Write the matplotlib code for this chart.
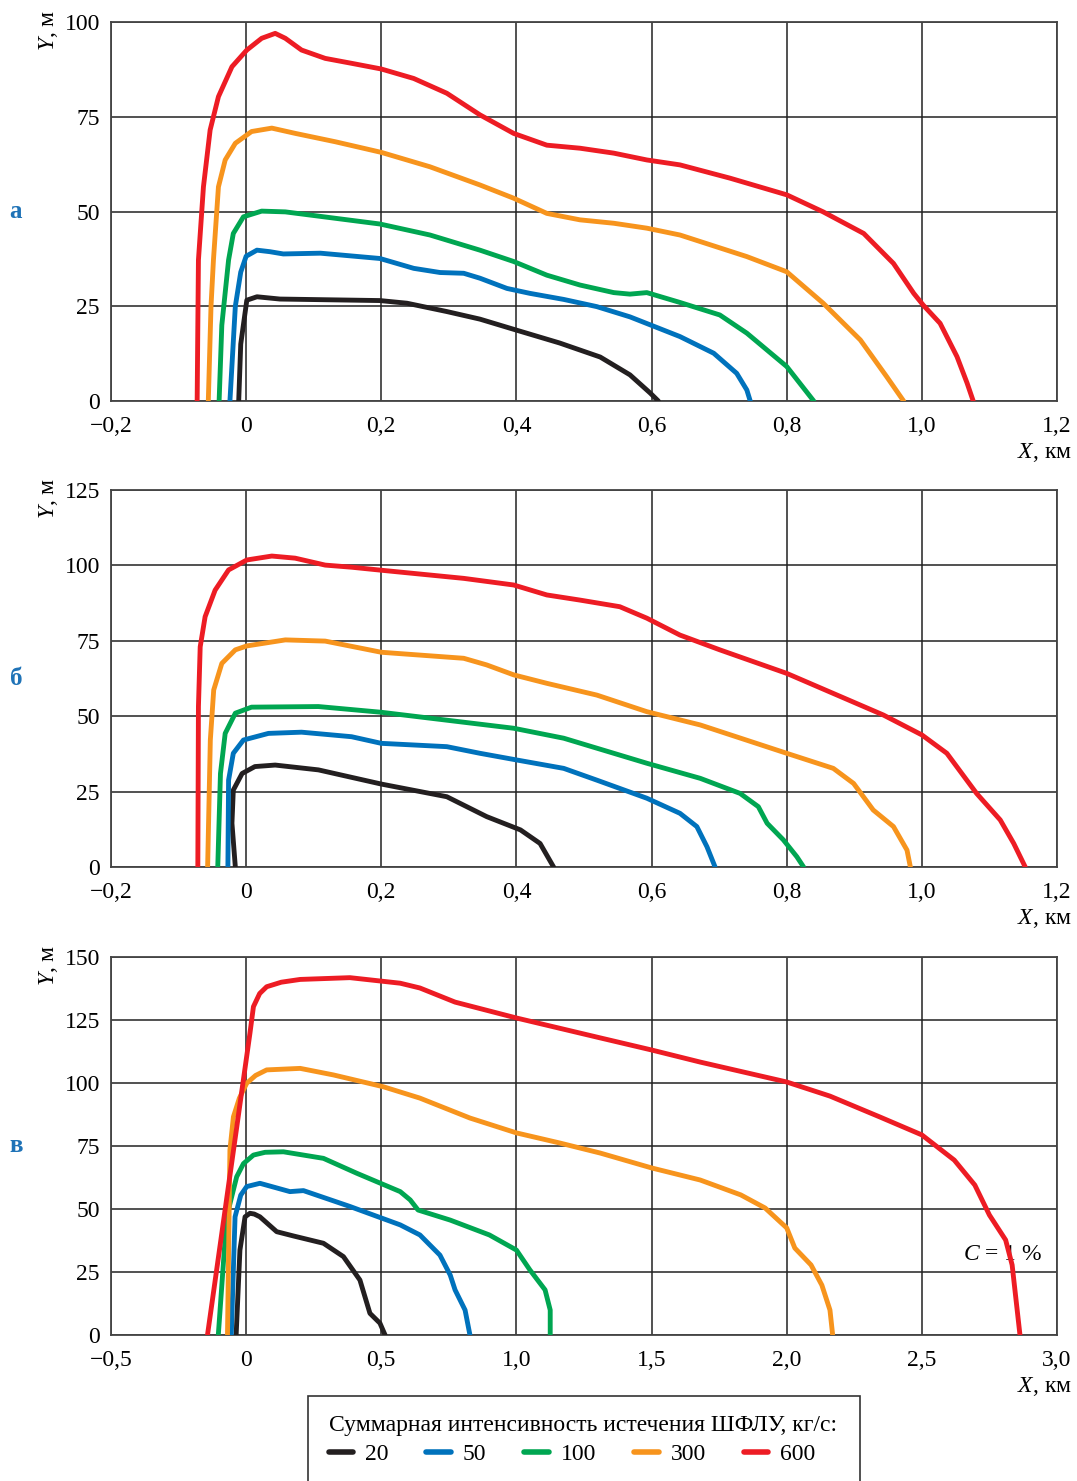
import matplotlib.pyplot as plt
from matplotlib.lines import Line2D
from matplotlib.patches import Rectangle

plt.rcParams["font.family"] = ["Liberation Serif", "DejaVu Serif"]
plt.rcParams["mathtext.fontset"] = "custom"
plt.rcParams["mathtext.rm"] = "Liberation Serif"
plt.rcParams["mathtext.it"] = "Liberation Serif:italic"

SERIES = ["20", "50", "100", "300", "600"]
COLORS = ["#231f20", "#0072bc", "#00a651", "#f7941d", "#ed1c24"]

# --- panel а ---
a_x_20 = [-0.011, -0.008, 0.001, 0.016, 0.05, 0.198, 0.238, 0.297, 0.346, 0.4, 0.464, 0.524, 0.568, 0.598, 0.61]
a_y_20 = [0, 15, 26.6, 27.5, 26.9, 26.5, 25.8, 23.6, 21.6, 18.7, 15.3, 11.6, 6.9, 2.1, 0]
a_x_50 = [-0.024, -0.016, -0.008, 0.0, 0.016, 0.035, 0.055, 0.11, 0.198, 0.248, 0.287, 0.322, 0.346, 0.386, 0.42, 0.47, 0.519, 0.568, 0.642, 0.692, 0.726, 0.741, 0.746]
a_y_50 = [0, 25, 34, 38.2, 39.8, 39.4, 38.8, 39, 37.6, 35, 33.9, 33.7, 32.4, 29.7, 28.4, 26.8, 24.9, 22.2, 17, 12.6, 7.3, 2.9, 0]
a_x_100 = [-0.04, -0.036, -0.026, -0.019, -0.004, 0.023, 0.058, 0.198, 0.272, 0.346, 0.396, 0.445, 0.494, 0.544, 0.568, 0.593, 0.642, 0.701, 0.741, 0.8, 0.84]
a_y_100 = [0, 20, 37.2, 44.2, 48.6, 50.1, 49.9, 46.7, 43.8, 39.8, 36.8, 33.2, 30.6, 28.6, 28.2, 28.6, 26, 22.7, 17.9, 9.1, 0]
a_x_300 = [-0.056, -0.052, -0.0484, -0.041, -0.031, -0.016, 0.008, 0.038, 0.073, 0.132, 0.2, 0.272, 0.346, 0.396, 0.445, 0.494, 0.544, 0.593, 0.642, 0.741, 0.8, 0.854, 0.909, 0.948, 0.973]
a_y_300 = [0, 25, 37.2, 56.5, 63.6, 68, 71.1, 72, 70.6, 68.4, 65.6, 61.8, 57, 53.5, 49.5, 47.8, 46.9, 45.6, 43.8, 38.1, 34.1, 25.8, 16.1, 6.4, 0]
a_x_600 = [-0.0725, -0.0715, -0.0706, -0.0632, -0.0533, -0.041, -0.021, 0.001, 0.023, 0.043, 0.058, 0.082, 0.117, 0.156, 0.2, 0.248, 0.297, 0.346, 0.396, 0.445, 0.494, 0.544, 0.593, 0.642, 0.716, 0.8, 0.854, 0.914, 0.958, 0.988, 1.002, 1.027, 1.052, 1.067, 1.076]
a_y_600 = [0, 20, 37.2, 56.5, 71.5, 80.3, 88.2, 92.6, 95.7, 97, 95.7, 92.6, 90.4, 89.1, 87.6, 85.1, 81.2, 75.5, 70.6, 67.5, 66.7, 65.4, 63.6, 62.3, 58.8, 54.4, 49.9, 44.2, 36.3, 28.4, 25.3, 20.5, 11.7, 4.7, 0]

# --- panel б ---
b_x_20 = [-0.016, -0.021, -0.019, -0.006, 0.013, 0.043, 0.107, 0.2, 0.297, 0.356, 0.406, 0.435, 0.455]
b_y_20 = [0, 14.5, 25.5, 31, 33.3, 33.8, 32.2, 27.5, 23.3, 16.7, 12.3, 7.8, 0]
b_x_50 = [-0.027, -0.026, -0.019, -0.004, 0.033, 0.082, 0.156, 0.2, 0.297, 0.346, 0.4, 0.47, 0.519, 0.593, 0.642, 0.667, 0.682, 0.694]
b_y_50 = [0, 28.8, 37.7, 42.1, 44.3, 44.7, 43.2, 41, 39.9, 37.7, 35.5, 32.7, 28.8, 22.8, 17.8, 13.4, 6.7, 0]
b_x_100 = [-0.042, -0.038, -0.031, -0.016, 0.008, 0.107, 0.2, 0.396, 0.47, 0.593, 0.672, 0.731, 0.758, 0.771, 0.795, 0.815, 0.825]
b_y_100 = [0, 31, 44.3, 51, 53, 53.2, 51.3, 46, 42.7, 34.4, 29.4, 24.4, 20, 14.5, 9, 3.4, 0]
b_x_300 = [-0.057, -0.053, -0.048, -0.036, -0.016, 0.001, 0.058, 0.117, 0.2, 0.322, 0.356, 0.396, 0.445, 0.519, 0.593, 0.672, 0.8, 0.869, 0.899, 0.928, 0.958, 0.978, 0.983]
b_y_300 = [0, 42.1, 58.7, 67.5, 72, 73.3, 75.3, 74.9, 71.2, 69.2, 67, 63.7, 60.9, 57, 51.5, 47.1, 37.7, 32.7, 27.7, 18.9, 13.4, 5.6, 0]
b_x_600 = [-0.0715, -0.0706, -0.068, -0.0607, -0.0459, -0.026, 0.001, 0.038, 0.0725, 0.117, 0.156, 0.2, 0.322, 0.396, 0.445, 0.494, 0.553, 0.593, 0.642, 0.701, 0.8, 0.943, 1.0, 1.037, 1.081, 1.116, 1.136, 1.153]
b_y_600 = [0, 53.2, 73, 83, 91.8, 98.5, 101.8, 103.1, 102.4, 100.1, 99.4, 98.4, 95.7, 93.5, 90.2, 88.5, 86.3, 82.5, 76.9, 72, 64.2, 50.4, 43.8, 37.7, 24.4, 15.6, 7.8, 0]

# --- panel в ---
c_x_20 = [-0.037, -0.023, -0.004, 0.014, 0.03, 0.051, 0.113, 0.175, 0.286, 0.36, 0.421, 0.458, 0.495, 0.514]
c_y_20 = [0, 33.7, 46.9, 48.3, 48, 46.9, 41, 39.3, 36.4, 31.1, 21.8, 8.6, 4.7, 0]
c_x_50 = [-0.055, -0.041, -0.02, 0.002, 0.051, 0.162, 0.212, 0.384, 0.57, 0.643, 0.717, 0.755, 0.773, 0.81, 0.828]
c_y_50 = [0, 46.9, 55.5, 58.9, 60.2, 56.9, 57.3, 51, 43.7, 39.7, 31.7, 23.8, 17.9, 9.9, 0]
c_x_100 = [-0.103, -0.072, -0.035, -0.01, 0.027, 0.07, 0.138, 0.286, 0.409, 0.57, 0.607, 0.636, 0.755, 0.9, 1.0, 1.05, 1.106, 1.125, 1.125]
c_y_100 = [0, 46.9, 62.8, 68, 71.4, 72.5, 72.7, 70.1, 64.2, 56.9, 53.6, 49.6, 45.6, 39.7, 33.7, 25.8, 17.9, 9.9, 0]
c_x_300 = [-0.069, -0.064, -0.06, -0.047, -0.025, 0.002, 0.035, 0.076, 0.2, 0.323, 0.508, 0.643, 0.828, 1.0, 1.16, 1.31, 1.5, 1.68, 1.83, 1.92, 2.0, 2.03, 2.09, 2.13, 2.16, 2.17]
c_y_300 = [0, 40, 73.4, 86.6, 94, 99.9, 103, 105.2, 105.8, 103.2, 98.5, 94, 86.1, 80.2, 76.2, 72.2, 66.3, 61.5, 55.6, 50.4, 42.5, 34.5, 27.8, 19.8, 9.9, 0]
c_x_600 = [-0.143, 0.014, 0.027, 0.05, 0.076, 0.13, 0.2, 0.384, 0.57, 0.643, 0.773, 1.0, 1.31, 1.5, 1.68, 2.0, 2.16, 2.345, 2.5, 2.62, 2.696, 2.75, 2.81, 2.834, 2.863]
c_y_600 = [0, 119.7, 130.3, 135.5, 138.2, 140, 141.1, 141.8, 139.6, 137.7, 132.1, 125.8, 117.9, 113.1, 108.3, 100.4, 94.8, 86.5, 79.4, 69.4, 59.5, 47.6, 37.7, 27.8, 0]

ab_xticks = [-0.2, 0, 0.2, 0.4, 0.6, 0.8, 1.0, 1.2]
ab_xlabels = ["\u22120,2", "0", "0,2", "0,4", "0,6", "0,8", "1,0", "1,2"]
c_xticks = [-0.5, 0, 0.5, 1.0, 1.5, 2.0, 2.5, 3.0]
c_xlabels = ["\u22120,5", "0", "0,5", "1,0", "1,5", "2,0", "2,5", "3,0"]
a_yticks = [0, 25, 50, 75, 100]
b_yticks = [0, 25, 50, 75, 100, 125]
c_yticks = [0, 25, 50, 75, 100, 125, 150]

W, H = 1077, 1481
fig = plt.figure(figsize=(W / 100, H / 100), dpi=100)


def fx(px):
    return px / W


def fy(py):
    return 1 - py / H


panels = [
    ("а", 22, 401, ab_xticks, ab_xlabels, a_yticks,
     [(a_x_20, a_y_20), (a_x_50, a_y_50), (a_x_100, a_y_100), (a_x_300, a_y_300), (a_x_600, a_y_600)]),
    ("б", 490, 867, ab_xticks, ab_xlabels, b_yticks,
     [(b_x_20, b_y_20), (b_x_50, b_y_50), (b_x_100, b_y_100), (b_x_300, b_y_300), (b_x_600, b_y_600)]),
    ("в", 957, 1335, c_xticks, c_xlabels, c_yticks,
     [(c_x_20, c_y_20), (c_x_50, c_y_50), (c_x_100, c_y_100), (c_x_300, c_y_300), (c_x_600, c_y_600)]),
]

axes = []
for letter, top, bot, xt, xl, yt, curves in panels:
    ax = fig.add_axes([fx(111), fy(bot), fx(1057) - fx(111), fy(top) - fy(bot)])
    for (xs, ys), c in zip(curves, COLORS):
        ax.plot(xs, ys, color=c, lw=3.5, solid_capstyle="round", solid_joinstyle="round", zorder=3)
    ax.set_xlim(xt[0], xt[-1])
    ax.set_ylim(yt[0], yt[-1])
    ax.set_xticks(xt)
    ax.set_xticklabels(xl)
    ax.set_yticks(yt)
    ax.grid(True, color="#222222", lw=1.1)
    ax.tick_params(length=0, labelsize=17, pad=8)
    ax.tick_params(axis="x", pad=11)
    for s in ax.spines.values():
        s.set_color("#444444")
        s.set_linewidth(1.3)
    fig.text(fx(48), fy(top + 8), "$Y$, м", rotation=90, ha="center", va="center", fontsize=17)
    fig.text(fx(1072), fy(bot + 51), "$X$, км", ha="right", va="center", fontsize=17)
    fig.text(fx(16), fy((top + bot) / 2), letter, ha="center", va="center",
             fontsize=18, fontweight="bold", color="#1f73b7")
    axes.append(ax)

axes[2].text(2.8, 32, "$C$ = 1 %", ha="center", va="center", fontsize=17, zorder=2)

# legend box, bottom edge runs off the figure
fig.patches.append(Rectangle((fx(308), fy(1500)), fx(860) - fx(308), fy(1396) - fy(1500),
                             transform=fig.transFigure, fill=False, edgecolor="#333333", lw=1.2))
handles = [Line2D([], [], color=c, lw=4, solid_capstyle="round") for c in COLORS]
leg = fig.legend(handles, SERIES, title="Суммарная интенсивность истечения ШФЛУ, кг/с:",
                 loc="upper left", bbox_to_anchor=(fx(312), fy(1398)), ncol=5, frameon=False,
                 fontsize=17, title_fontsize=17, handlelength=1.05, handletextpad=0.5,
                 columnspacing=1.6, borderpad=0.2, labelspacing=0.15)
leg._legend_box.align = "left"
leg._legend_box.sep = 6

fig.savefig("out.png", dpi=100, facecolor="white")
